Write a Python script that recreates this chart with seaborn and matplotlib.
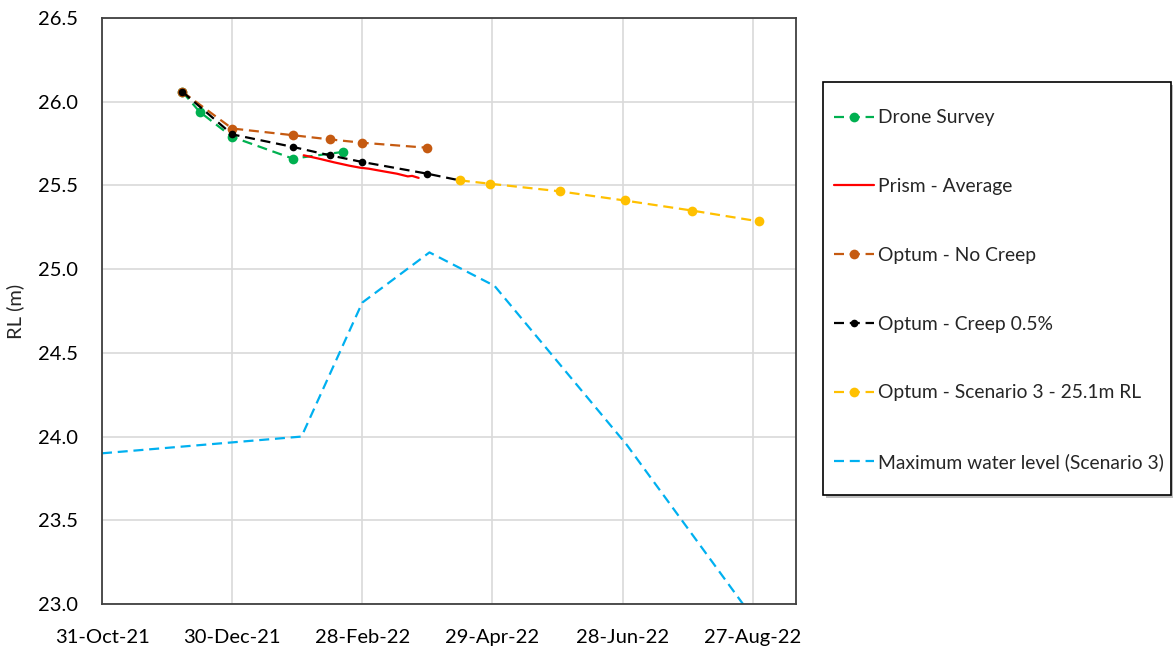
import pandas as pd
import numpy as np
import matplotlib
matplotlib.use("Agg")
import matplotlib.pyplot as plt
import matplotlib.dates as mdates
from matplotlib.patches import Rectangle
import seaborn as sns

# ---- data -------------------------------------------------------------
drone_dates = ["2021-12-07", "2021-12-15", "2021-12-30", "2022-01-27", "2022-02-19"]
drone_rl = [26.06, 25.94, 25.79, 25.66, 25.70]

prism_dates = ["2022-02-01", "2022-02-08", "2022-02-15", "2022-02-22", "2022-02-27",
               "2022-03-03", "2022-03-09", "2022-03-16", "2022-03-21", "2022-03-23",
               "2022-03-26"]
prism_rl = [25.68, 25.66, 25.638, 25.618, 25.606, 25.600, 25.586, 25.570, 25.554,
            25.557, 25.545]

nocreep_dates = ["2021-12-07", "2021-12-30", "2022-01-27", "2022-02-13", "2022-02-28",
                 "2022-03-30"]
nocreep_rl = [26.06, 25.84, 25.80, 25.775, 25.755, 25.725]

creep_dates = ["2021-12-07", "2021-12-30", "2022-01-27", "2022-02-13", "2022-02-28",
               "2022-03-30", "2022-04-14"]
creep_rl = [26.06, 25.805, 25.73, 25.68, 25.64, 25.57, 25.53]

scen3_dates = ["2022-04-14", "2022-04-28", "2022-05-30", "2022-06-29", "2022-07-30",
               "2022-08-30"]
scen3_rl = [25.53, 25.51, 25.465, 25.41, 25.35, 25.285]

water_dates = ["2021-10-31", "2022-01-31", "2022-02-28", "2022-03-31", "2022-04-30",
               "2022-06-30", "2022-08-31"]
water_rl = [23.90, 24.00, 24.80, 25.10, 24.90, 23.95, 22.85]

x_ticks = ["2021-10-31", "2021-12-30", "2022-02-28", "2022-04-29", "2022-06-28",
           "2022-08-27"]
x_range = ["2021-10-31", "2022-09-16"]
y_ticks = [23.0, 23.5, 24.0, 24.5, 25.0, 25.5, 26.0, 26.5]

# ---- styling ----------------------------------------------------------
sns.set_style("white")
plt.rcParams["font.family"] = ["Lato", "DejaVu Sans"]

W, H = 1173, 647
fig = plt.figure(figsize=(W / 100, H / 100), dpi=100)
ax = fig.add_axes([102 / W, 43 / H, 694 / W, 586 / H])

dash = (0, (4.5, 2.6))
series = [
    ("Drone Survey", drone_dates, drone_rl, "#00B050", dash, "o", 7),
    ("Prism - Average", prism_dates, prism_rl, "#FF0000", "-", None, 0),
    ("Optum - No Creep", nocreep_dates, nocreep_rl, "#C55A11", dash, "o", 7),
    ("Optum - Creep 0.5%", creep_dates, creep_rl, "#000000", dash, "o", 5.5),
    ("Optum - Scenario 3 - 25.1m RL", scen3_dates, scen3_rl, "#FFC000", dash, "o", 7),
    ("Maximum water level (Scenario 3)", water_dates, water_rl, "#00B0F0", dash, None, 0),
]

for label, d, v, color, ls, marker, ms in series:
    df = pd.DataFrame({"date": pd.to_datetime(d), "rl": v})
    kw = dict(marker=marker, markersize=ms, markeredgewidth=0) if marker else {}
    sns.lineplot(data=df, x="date", y="rl", ax=ax, color=color, linestyle=ls,
                 linewidth=1.6, label=label, **kw)

ax.set_xlim(pd.to_datetime(x_range[0]), pd.to_datetime(x_range[1]))
ax.set_ylim(23.0, 26.5)
ax.set_xticks(pd.to_datetime(x_ticks))
ax.xaxis.set_major_formatter(mdates.DateFormatter("%d-%b-%y"))
ax.set_yticks(y_ticks)
ax.yaxis.set_major_formatter(matplotlib.ticker.FormatStrFormatter("%.1f"))

ax.grid(True, color="#D9D9D9", linewidth=1.2)
ax.set_axisbelow(True)
for s in ax.spines.values():
    s.set_color("#404040")
    s.set_linewidth(1.3)
ax.tick_params(axis="both", length=0, labelsize=14.5, colors="black")
ax.tick_params(axis="y", pad=17)
ax.tick_params(axis="x", pad=18)
ax.set_xlabel("")
ax.set_ylabel("RL (m)", fontsize=14.5, labelpad=10)

# legend box with a soft drop shadow, drawn beneath the legend entries
x0, y0, x1, y1 = 823, 82, 1171, 495
fig.patches.append(Rectangle(((x0 + 3) / W, 1 - (y1 + 3) / H), (x1 - x0) / W,
                             (y1 - y0) / H, transform=fig.transFigure,
                             facecolor="#BFBFBF", edgecolor="none", zorder=-2))
fig.patches.append(Rectangle((x0 / W, 1 - y1 / H), (x1 - x0) / W, (y1 - y0) / H,
                             transform=fig.transFigure, facecolor="white",
                             edgecolor="black", linewidth=1.2, zorder=-1))

leg = ax.legend(loc="upper left", bbox_to_anchor=(834 / W, 1 - 109.5 / H),
                bbox_transform=fig.transFigure, fontsize=13.9, frameon=False,
                labelspacing=2.68, handlelength=2.05, handletextpad=0.25,
                borderpad=0, borderaxespad=0)

fig.savefig("out.png", dpi=100)
